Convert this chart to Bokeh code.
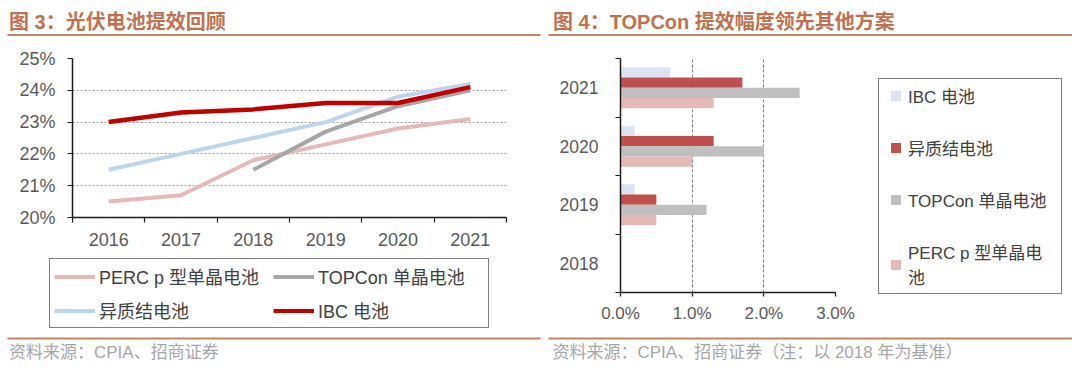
from bokeh.plotting import figure
from bokeh.layouts import column, row
from bokeh.models import (Range1d, FixedTicker, PrintfTickFormatter, Legend,
                          LegendItem, ColumnDataSource)
from bokeh.transform import dodge
from bokeh.core.properties import value
from bokeh.embed import file_html
from bokeh.resources import INLINE

FONT = "'Liberation Sans', 'Noto Sans CJK SC', sans-serif"

# ---------------- data ----------------
years = [2016, 2017, 2018, 2019, 2020, 2021]
perc = [20.5, 20.7, 21.8, 22.3, 22.8, 23.1]
topcon_years = [2018, 2019, 2020, 2021]
topcon = [21.5, 22.7, 23.5, 24.0]
hjt = [21.5, 22.0, 22.5, 23.0, 23.8, 24.2]
ibc = [23.0, 23.3, 23.4, 23.6, 23.6, 24.1]
line_names = ["PERC p 型单晶电池", "TOPCon 单晶电池", "异质结电池", "IBC 电池"]
y_ticks_left = [20, 21, 22, 23, 24, 25]

bar_years = [2018, 2019, 2020, 2021]
gain_ibc = [0.0, 0.2, 0.2, 0.7]
gain_hjt = [0.0, 0.5, 1.3, 1.7]
gain_topcon = [0.0, 1.2, 2.0, 2.5]
gain_perc = [0.0, 0.5, 1.0, 1.3]
bar_names = ["IBC 电池", "异质结电池", "TOPCon 单晶电池", "PERC p 型单晶电\n池"]
x_ticks_right = [0, 1, 2, 3]

title_left = "图 3：光伏电池提效回顾"
title_right = "图 4：TOPCon 提效幅度领先其他方案"
source_left = "资料来源：CPIA、招商证券"
source_right = "资料来源：CPIA、招商证券（注：以 2018 年为基准）"

# ---------------- styles ----------------
C_TITLE = "#C0714F"
C_RULE = "#C58466"
C_TICK = "#595959"
C_LEG = "#404040"
C_PERC = "#E6B9B8"
C_TOP = "#A6A6A6"
C_HJT = "#BCD5EC"
C_IBC = "#C00000"
B_IBC = "#DCE4F2"
B_HJT = "#C0504D"
B_TOP = "#BFBFBF"
B_PERC = "#E6B9B8"


def blank(w, h, x0, x1, y0, y1):
    p = figure(width=w, height=h, x_range=Range1d(x0, x1), y_range=Range1d(y1, y0),
               x_axis_type=None, y_axis_type=None, output_backend="svg",
               toolbar_location=None, min_border=0)
    p.outline_line_color = None
    p.xgrid.visible = False
    p.ygrid.visible = False
    return p


# ---------------- header ----------------
H = blank(1072, 40, 0, 1072, 0, 40)
H.text(x=[8.5, 552.5], y=[21, 21], text=[title_left, title_right],
       text_font=value(FONT), text_font_size="20px", text_font_style="bold",
       text_color=C_TITLE, text_baseline="middle", text_align="left")
H.segment(x0=[7, 548], y0=[34.5, 34.5], x1=[540, 1072], y1=[34.5, 34.5],
          line_color=C_RULE, line_width=2)

# ---------------- footer ----------------
F = blank(1072, 33, 0, 1072, 330, 363)
F.segment(x0=[7, 548], y0=[338, 338], x1=[540, 1072], y1=[338, 338],
          line_color=C_RULE, line_width=2)
F.text(x=[8.5, 552], y=[352, 352], text=[source_left, source_right],
       text_font=value(FONT), text_font_size="17px",
       text_color="#A6A6A6", text_baseline="middle", text_align="left")


def style_axis(ax, size):
    ax.axis_line_color = "#1A1A1A"
    ax.axis_line_width = 1.5
    ax.major_tick_line_color = "#1A1A1A"
    ax.minor_tick_line_color = "#1A1A1A"
    ax.major_tick_line_width = 1.2
    ax.minor_tick_line_width = 1.2
    ax.major_label_text_font = FONT
    ax.major_label_text_font_size = size
    ax.major_label_text_color = C_TICK


# ---------------- left chart ----------------
L = figure(width=540, height=215, x_range=Range1d(2015.5, 2021.5), y_range=Range1d(20, 25),
           output_backend="svg", toolbar_location=None,
           min_border_left=72, min_border_right=34, min_border_top=18, min_border_bottom=38)
L.outline_line_color = None
L.xgrid.visible = False
L.ygrid.grid_line_color = "#9A9A9A"
L.ygrid.grid_line_dash = "2 2"
L.ygrid.grid_line_width = 1

xa = L.xaxis[0]
style_axis(xa, "18px")
xa.ticker = FixedTicker(ticks=years, minor_ticks=[y - 0.5 for y in years] + [years[-1] + 0.5])
xa.formatter = PrintfTickFormatter(format="%d")
xa.major_tick_out = 0
xa.major_tick_in = 0
xa.minor_tick_out = 5
xa.minor_tick_in = 0
xa.major_label_standoff = 10

ya = L.yaxis[0]
style_axis(ya, "18px")
ya.ticker = FixedTicker(ticks=y_ticks_left)
ya.formatter = PrintfTickFormatter(format="%d%%")
ya.major_tick_out = 5
ya.major_tick_in = 0
ya.minor_tick_out = 0
ya.minor_tick_in = 0
ya.major_label_standoff = 12

L.line(years, perc, line_color=C_PERC, line_width=4)
L.line(years, hjt, line_color=C_HJT, line_width=4)
L.line(topcon_years, topcon, line_color=C_TOP, line_width=4)
L.line(years, ibc, line_color=C_IBC, line_width=4.5)

# left legend panel (legend keys carry the same series, not drawn here)
LL = blank(540, 75, 0, 540, 255, 330)
key_l = [LL.line(years, perc, line_color=C_PERC, line_width=4, visible=False),
         LL.line(topcon_years, topcon, line_color=C_TOP, line_width=4, visible=False),
         LL.line(years, hjt, line_color=C_HJT, line_width=4, visible=False),
         LL.line(years, ibc, line_color=C_IBC, line_width=4, visible=False)]
leg_l = Legend(items=[LegendItem(label=n, renderers=[r]) for n, r in zip(line_names, key_l)],
               location=(49, 2), orientation="horizontal", ncols=2,
               border_line_color="#000000", border_line_width=1.5,
               background_fill_color="white", background_fill_alpha=1.0,
               inactive_fill_alpha=0.0,
               padding=4, spacing=8, margin=0,
               glyph_width=41, glyph_height=19, label_height=19, label_width=166,
               label_standoff=4, label_text_font=FONT, label_text_font_size="18px",
               label_text_color=C_LEG)
LL.add_layout(leg_l)

# ---------------- right chart ----------------
R = figure(width=326, height=290, x_range=Range1d(0, 3), y_range=Range1d(2017.5, 2021.5),
           output_backend="svg", toolbar_location=None,
           min_border_left=80, min_border_right=31, min_border_top=18, min_border_bottom=38)
R.outline_line_color = None
R.ygrid.visible = False
R.xgrid.ticker = FixedTicker(ticks=[1, 2, 3])
R.xgrid.grid_line_color = "#7F7F7F"
R.xgrid.grid_line_dash = "3 2"
R.xgrid.grid_line_width = 1

rx = R.xaxis[0]
style_axis(rx, "17px")
rx.ticker = FixedTicker(ticks=x_ticks_right)
rx.formatter = PrintfTickFormatter(format="%.1f%%")
rx.major_tick_out = 4
rx.major_tick_in = 0
rx.major_label_standoff = 7

ry = R.yaxis[0]
style_axis(ry, "17.5px")
ry.ticker = FixedTicker(ticks=bar_years, minor_ticks=[y - 0.5 for y in bar_years] + [bar_years[-1] + 0.5])
ry.formatter = PrintfTickFormatter(format="%d")
ry.major_tick_out = 0
ry.major_tick_in = 0
ry.minor_tick_out = 5
ry.minor_tick_in = 0
ry.major_label_standoff = 17

src = ColumnDataSource(dict(year=bar_years, ibc=gain_ibc, hjt=gain_hjt,
                            topcon=gain_topcon, perc=gain_perc))
bh = 0.175
R.hbar(y=dodge("year", 1.5 * bh), left=0, right="ibc", height=bh, source=src,
       fill_color=B_IBC, line_color=None)
R.hbar(y=dodge("year", 0.5 * bh), left=0, right="hjt", height=bh, source=src,
       fill_color=B_HJT, line_color=None)
R.hbar(y=dodge("year", -0.5 * bh), left=0, right="topcon", height=bh, source=src,
       fill_color=B_TOP, line_color=None)
R.hbar(y=dodge("year", -1.5 * bh), left=0, right="perc", height=bh, source=src,
       fill_color=B_PERC, line_color=None)

# right legend panel
RL = blank(206, 290, 866, 1072, 40, 330)
key_r = [RL.scatter(x=vals, y=bar_years, marker="square", fill_color=c, line_color=None,
                    visible=False)
         for vals, c in ((gain_ibc, B_IBC), (gain_hjt, B_HJT), (gain_topcon, B_TOP),
                         (gain_perc, B_PERC))]
leg_r = Legend(items=[LegendItem(label=n, renderers=[r]) for n, r in zip(bar_names, key_r)],
               location=(12, 36), orientation="vertical",
               border_line_color="#000000", border_line_width=1.5,
               background_fill_color="white", background_fill_alpha=1.0,
               inactive_fill_alpha=0.0,
               padding=4, spacing=27, margin=0,
               glyph_width=25, glyph_height=25, label_height=25, label_width=149,
               label_standoff=-4, label_text_font=FONT, label_text_font_size="17px",
               label_text_color=C_LEG)
RL.add_layout(leg_r)

layout = column(H, row(column(L, row(LL)), R, column(RL)), F)
open("out.html", "w").write(file_html(layout, INLINE, "chart"))
